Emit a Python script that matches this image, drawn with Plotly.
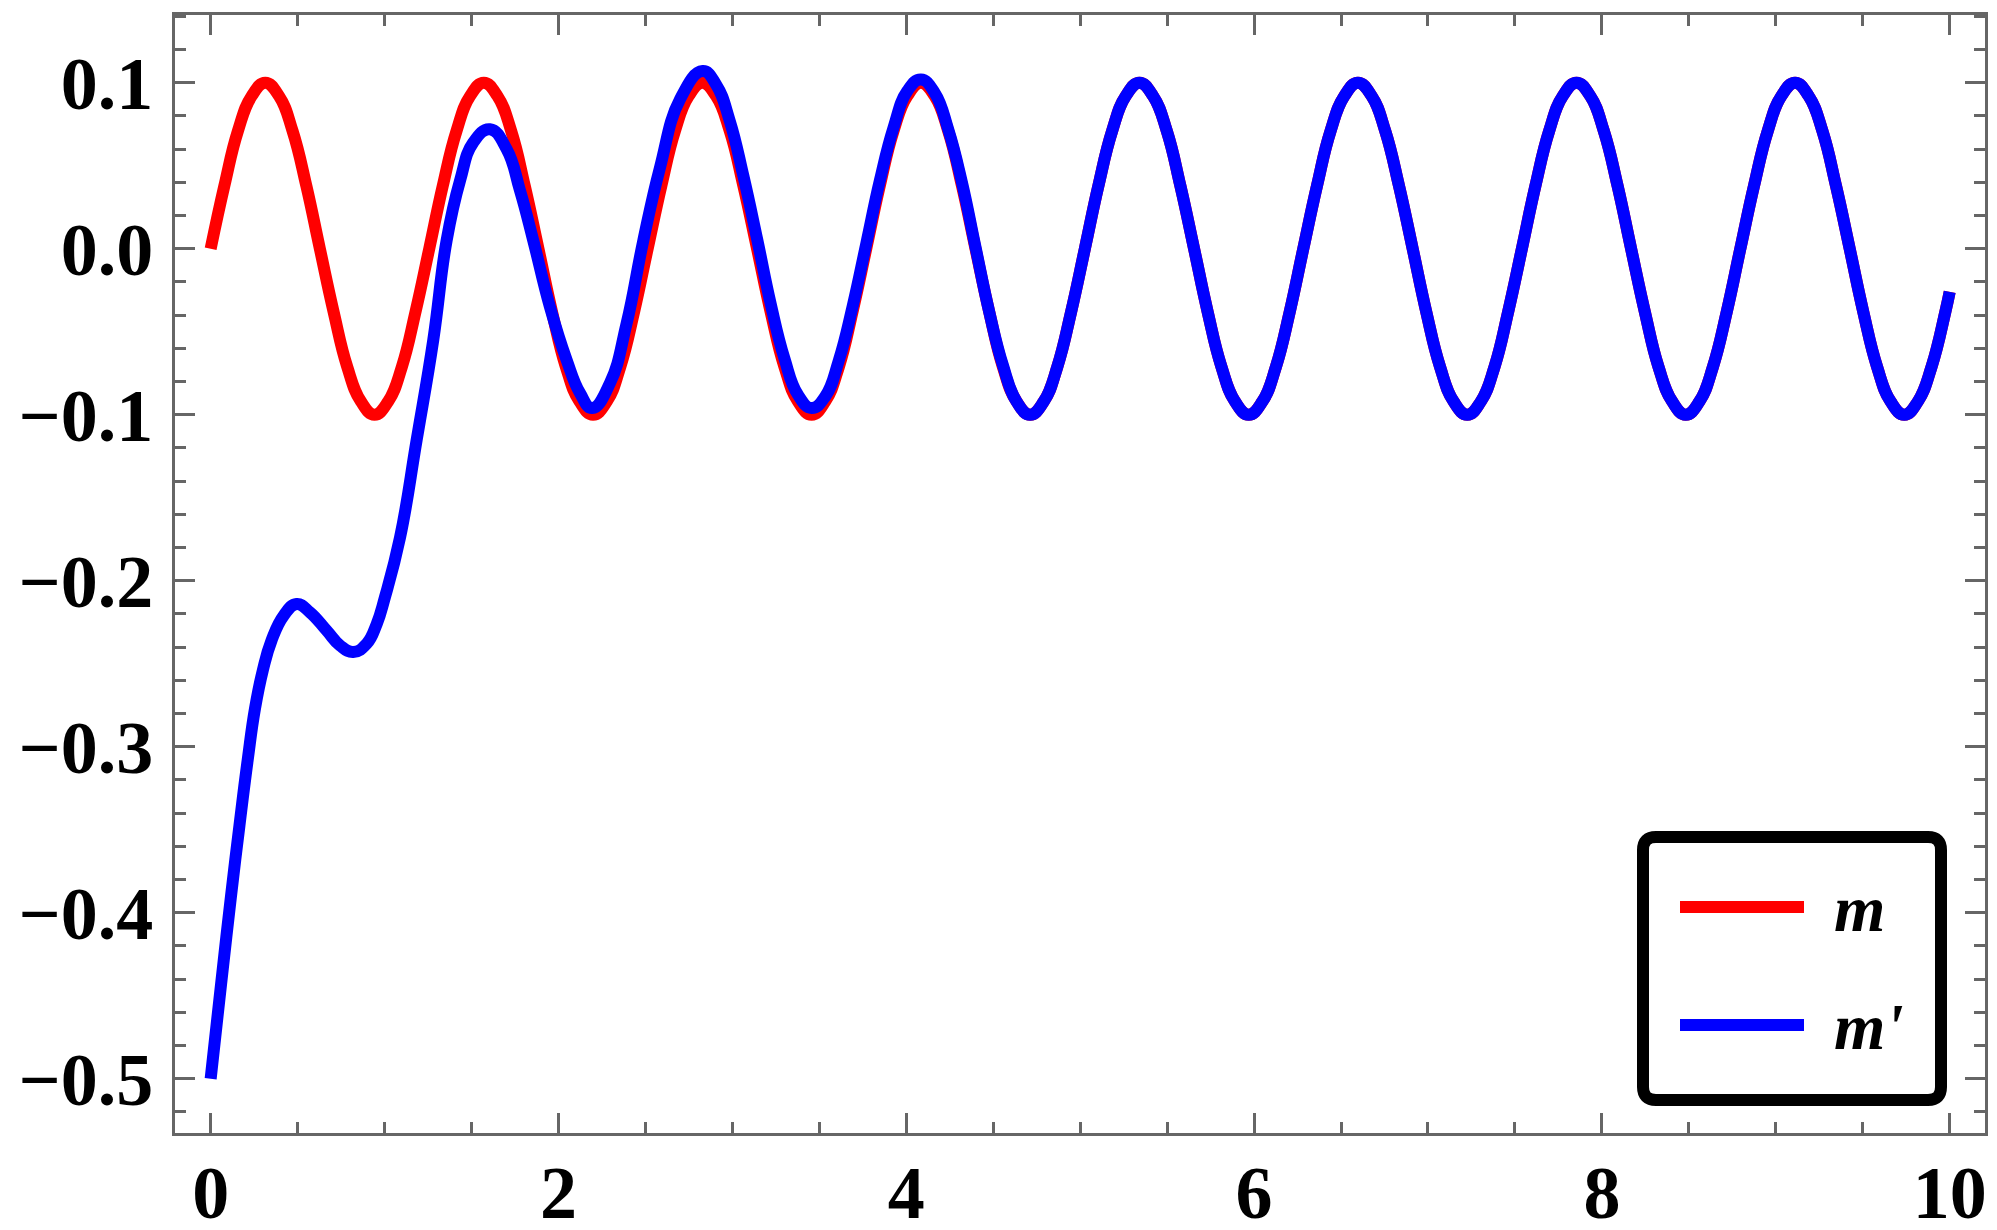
import plotly.graph_objects as go

# ---------------- data ----------------
t_m = [0.000, 0.079, 0.157, 0.236, 0.314, 0.393, 0.471, 0.550,
       0.628, 0.707, 0.785, 0.864, 0.942, 1.021, 1.100, 1.178,
       1.257, 1.335, 1.414, 1.492, 1.571, 1.649, 1.728, 1.806,
       1.885, 1.963, 2.042, 2.121, 2.199, 2.278, 2.356, 2.435,
       2.513, 2.592, 2.670, 2.749, 2.827, 2.906, 2.985, 3.063,
       3.142, 3.220, 3.299, 3.377, 3.456, 3.534, 3.613, 3.691,
       3.770, 3.848, 3.927, 4.006, 4.084, 4.163, 4.241, 4.320,
       4.398, 4.477, 4.555, 4.634, 4.712, 4.791, 4.869, 4.948,
       5.027, 5.105, 5.184, 5.262, 5.341, 5.419, 5.498, 5.576,
       5.655, 5.733, 5.812, 5.890, 5.969, 6.048, 6.126, 6.205,
       6.283, 6.362, 6.440, 6.519, 6.597, 6.676, 6.754, 6.833,
       6.912, 6.990, 7.069, 7.147, 7.226, 7.304, 7.383, 7.461,
       7.540, 7.618, 7.697, 7.775, 7.854, 7.933, 8.011, 8.090,
       8.168, 8.247, 8.325, 8.404, 8.482, 8.561, 8.639, 8.718,
       8.796, 8.875, 8.954, 9.032, 9.111, 9.189, 9.268, 9.346,
       9.425, 9.503, 9.582, 9.660, 9.739, 9.817, 9.896, 9.975, 10.000]
m_vals = [0.000, 0.038, 0.071, 0.092, 0.100, 0.092, 0.071, 0.038, 0.000, -0.038, -0.071, -0.092, -0.100, -0.092, -0.071, -0.038,
          0.000, 0.038, 0.071, 0.092, 0.100, 0.092, 0.071, 0.038, 0.000, -0.038, -0.071, -0.092, -0.100, -0.092, -0.071, -0.038,
          0.000, 0.038, 0.071, 0.092, 0.100, 0.092, 0.071, 0.038, 0.000, -0.038, -0.071, -0.092, -0.100, -0.092, -0.071, -0.038,
          0.000, 0.038, 0.071, 0.092, 0.100, 0.092, 0.071, 0.038, 0.000, -0.038, -0.071, -0.092, -0.100, -0.092, -0.071, -0.038,
          0.000, 0.038, 0.071, 0.092, 0.100, 0.092, 0.071, 0.038, 0.000, -0.038, -0.071, -0.092, -0.100, -0.092, -0.071, -0.038,
          0.000, 0.038, 0.071, 0.092, 0.100, 0.092, 0.071, 0.038, 0.000, -0.038, -0.071, -0.092, -0.100, -0.092, -0.071, -0.038,
          0.000, 0.038, 0.071, 0.092, 0.100, 0.092, 0.071, 0.038, 0.000, -0.038, -0.071, -0.092, -0.100, -0.092, -0.071, -0.038,
          0.000, 0.038, 0.071, 0.092, 0.100, 0.092, 0.071, 0.038, 0.000, -0.038, -0.071, -0.092, -0.100, -0.092, -0.071, -0.038,
          -0.026]

t_mp = [0.000, 0.060, 0.117, 0.165, 0.213, 0.255, 0.300, 0.350,
        0.420, 0.494, 0.571, 0.667, 0.744, 0.820, 0.897, 0.955,
        1.002, 1.089, 1.185, 1.280, 1.357, 1.434, 1.510, 1.606,
        1.702, 1.779, 1.855, 1.951, 2.047, 2.124, 2.194, 2.296,
        2.392, 2.488, 2.584, 2.699, 2.829,
        2.906, 2.985, 3.063, 3.142, 3.220, 3.299, 3.377, 3.456,
        3.534, 3.613, 3.691, 3.770, 3.848, 3.927, 4.006, 4.084,
        4.163, 4.241, 4.320, 4.398, 4.477, 4.555, 4.634, 4.712,
        4.791, 4.869, 4.948,
        5.027, 5.105, 5.184, 5.262, 5.341, 5.419, 5.498, 5.576,
        5.655, 5.733, 5.812, 5.890, 5.969, 6.048, 6.126, 6.205,
        6.283, 6.362, 6.440, 6.519, 6.597, 6.676, 6.754, 6.833,
        6.912, 6.990, 7.069, 7.147, 7.226, 7.304, 7.383, 7.461,
        7.540, 7.618, 7.697, 7.775, 7.854, 7.933, 8.011, 8.090,
        8.168, 8.247, 8.325, 8.404, 8.482, 8.561, 8.639, 8.718,
        8.796, 8.875, 8.954, 9.032, 9.111, 9.189, 9.268, 9.346,
        9.425, 9.503, 9.582, 9.660, 9.739, 9.817, 9.896, 9.975, 10.000]
mp_vals = [-0.500, -0.443, -0.390, -0.348, -0.308, -0.277, -0.254, -0.236,
           -0.221, -0.214, -0.219, -0.230, -0.239, -0.243, -0.238, -0.226,
           -0.210, -0.174, -0.115, -0.055, 0.005, 0.041, 0.064, 0.072,
           0.060, 0.035, 0.005, -0.035, -0.067, -0.087, -0.096, -0.081,
           -0.045, 0.005, 0.049, 0.090, 0.107,
           0.099, 0.077, 0.044, 0.006, -0.033, -0.066, -0.088, -0.096,
           -0.089, -0.067, -0.035, 0.003, 0.041, 0.073, 0.095, 0.102,
           0.094, 0.072, 0.040, 0.001, -0.038, -0.070, -0.092, -0.100,
           -0.092, -0.071, -0.038,
           0.000, 0.038, 0.071, 0.092, 0.100, 0.092, 0.071, 0.038, 0.000, -0.038, -0.071, -0.092, -0.100, -0.092, -0.071, -0.038,
           0.000, 0.038, 0.071, 0.092, 0.100, 0.092, 0.071, 0.038, 0.000, -0.038, -0.071, -0.092, -0.100, -0.092, -0.071, -0.038,
           0.000, 0.038, 0.071, 0.092, 0.100, 0.092, 0.071, 0.038, 0.000, -0.038, -0.071, -0.092, -0.100, -0.092, -0.071, -0.038,
           0.000, 0.038, 0.071, 0.092, 0.100, 0.092, 0.071, 0.038, 0.000, -0.038, -0.071, -0.092, -0.100, -0.092, -0.071, -0.038,
           -0.026]

series_names = ["m", "m'"]
series_colors = ["#FF0000", "#0000FF"]
x_ticks = [0, 2, 4, 6, 8, 10]

# ---------------- figure ----------------
# the page body adds an 8 px margin, so the figure is sized/offset to compensate
OFF = 8
W, H = 1997 - 2 * OFF, 1230 - 2 * OFF
ML, MT = 175 - OFF, 15 - OFF
MR = W - (1985 - OFF)
MB = H - (1133 - OFF)
LW = 12
FRAME = "#666666"
FONT = "Liberation Serif, Times New Roman, Times, serif"

fig = go.Figure()
fig.add_trace(go.Scatter(x=t_m, y=m_vals, mode="lines", name=series_names[0],
                         line=dict(color=series_colors[0], width=LW, shape="spline", smoothing=1.3),
                         showlegend=False))
fig.add_trace(go.Scatter(x=t_mp, y=mp_vals, mode="lines", name=series_names[1],
                         line=dict(color=series_colors[1], width=LW, shape="spline", smoothing=1.3),
                         showlegend=False))

axis_common = dict(
    showgrid=False, zeroline=False, showline=True, linecolor=FRAME, linewidth=3,
    mirror="allticks", ticks="inside", ticklen=20, tickwidth=3, tickcolor=FRAME,
    tickfont=dict(family=FONT, size=74, color="black", weight="bold"),
    automargin=False,
)

fig.update_xaxes(range=[-0.205, 10.203], tickmode="array", tickvals=x_ticks,
                 ticktext=[str(v) for v in x_ticks], ticklabelstandoff=-7,
                 minor=dict(tickmode="linear", tick0=0, dtick=0.5, ticks="inside",
                            ticklen=11, tickwidth=3, tickcolor=FRAME, showgrid=False),
                 **axis_common)
fig.update_yaxes(range=[-0.5327, 0.1408], tick0=0, dtick=0.1, tickformat=".1f",
                 ticklabelstandoff=4,
                 minor=dict(tickmode="linear", tick0=0, dtick=0.02, ticks="inside",
                            ticklen=11, tickwidth=3, tickcolor=FRAME, showgrid=False),
                 **axis_common)

# ---------------- legend (drawn as a framed box) ----------------
pw, ph = W - ML - MR, H - MT - MB
def px(xr):
    return (xr - OFF - ML) / pw
def py(yr):
    return (H - MB - (yr - OFF)) / ph

bx0, bx1, by0, by1 = px(1643), px(1941), py(837), py(1100)
rx, ry = 13 / pw, 13 / ph
path = (f"M {bx0+rx},{by0} L {bx1-rx},{by0} Q {bx1},{by0} {bx1},{by0-ry} "
        f"L {bx1},{by1+ry} Q {bx1},{by1} {bx1-rx},{by1} "
        f"L {bx0+rx},{by1} Q {bx0},{by1} {bx0},{by1+ry} "
        f"L {bx0},{by0-ry} Q {bx0},{by0} {bx0+rx},{by0} Z")
fig.add_shape(type="path", path=path, xref="paper", yref="paper",
              line=dict(color="black", width=12), fillcolor="white", layer="above")

legend_rows = [907, 1025]
for name, color, yrow in zip(series_names, series_colors, legend_rows):
    fig.add_shape(type="line", xref="paper", yref="paper",
                  x0=px(1680), x1=px(1804), y0=py(yrow), y1=py(yrow),
                  line=dict(color=color, width=LW), layer="above")
    fig.add_annotation(x=px(1832), y=py(yrow + 1), xref="paper", yref="paper",
                       text=name, showarrow=False, xanchor="left", yanchor="middle",
                       font=dict(family=FONT, size=66, color="black",
                                 weight="bold", style="italic"))

fig.update_layout(width=W, height=H, margin=dict(l=ML, r=MR, t=MT, b=MB, autoexpand=False),
                  plot_bgcolor="white", paper_bgcolor="white", showlegend=False)

fig.write_html("out.html")
